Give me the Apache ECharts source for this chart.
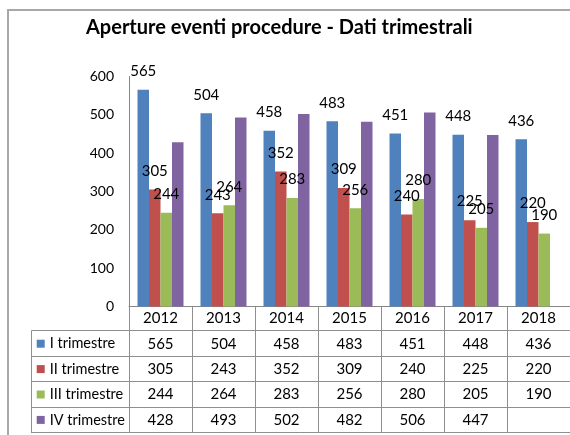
<!DOCTYPE html>
<html><head><meta charset="utf-8">
<script src="https://cdn.jsdelivr.net/npm/echarts@6/dist/echarts.min.js"></script>
<style>html,body{margin:0;padding:0;background:#fff}#c{width:570px;height:435px}</style>
</head><body><div id="c"></div>
<script>
const years = ['2012','2013','2014','2015','2016','2017','2018'];
const seriesNames = ['I trimestre','II trimestre','III trimestre','IV trimestre'];
const q1 = [565,504,458,483,451,448,436];
const q2 = [305,243,352,309,240,225,220];
const q3 = [244,264,283,256,280,205,190];
const q4 = [428,493,502,482,506,447,null];
const yMin = 0, yMax = 600, yStep = 100;
const titleText = 'Aperture eventi procedure - Dati trimestrali';

const values = [q1,q2,q3,q4];
const colors = ['#4F81BD','#C0504D','#9BBB59','#8064A2'];
const FONT = 'Lato';
const lineColor = '#8f8f8f';

const chart = echarts.init(document.getElementById('c'), null, {renderer:'canvas'});
const option = {
  animation:false,
  backgroundColor:'#fff',
  textStyle:{fontFamily:FONT},
  title:{text:titleText,left:86,top:18,padding:0,
    textStyle:{fontFamily:FONT,fontSize:20,fontWeight:'bold',color:'#000'}},
  legend:{data:seriesNames,orient:'vertical',left:36.7,top:335.7,padding:0,
    itemWidth:8,itemHeight:8,itemGap:9.4,icon:'rect',itemTextGap:2,
    textStyle:{fontFamily:FONT,fontSize:14.5,lineHeight:16,color:'#000'}},
  graphic:[{type:'rect',z:-10,silent:true,shape:{x:8,y:10,width:640,height:480},
    style:{fill:'none',stroke:'#a8a8a8',lineWidth:2}}],
  grid:[
    {left:129,top:76.4,width:447.6,height:230,containLabel:false},
    {left:31.7,top:330.7,width:544.9,height:102,containLabel:false}
  ],
  xAxis:[
    {type:'category',gridIndex:0,data:years,boundaryGap:true,
     axisLine:{lineStyle:{color:'#868686',width:1}},
     axisTick:{show:true,interval:0,length:126,lineStyle:{color:lineColor}},
     axisLabel:{interval:0,margin:-0.8,fontFamily:FONT,fontSize:15,lineHeight:25.4,color:'#000',
       formatter:(v,i)=>[v].concat(values.map(s=>s[i]==null?'':String(s[i]))).join('\n')}},
    {type:'value',gridIndex:1,show:false,min:0,max:1}
  ],
  yAxis:[
    {type:'value',gridIndex:0,min:yMin,max:yMax,interval:yStep,
     axisLine:{show:true,lineStyle:{color:'#868686'}},axisTick:{show:false},
     splitLine:{show:false},
     axisLabel:{margin:15,fontFamily:FONT,fontSize:14,color:'#000'}},
    {type:'category',gridIndex:1,data:seriesNames,inverse:true,boundaryGap:true,
     axisLine:{show:true,lineStyle:{color:lineColor}},axisTick:{show:false},axisLabel:{show:false},
     splitLine:{show:true,interval:0,lineStyle:{color:lineColor}}}
  ],
  series: values.map((d,k)=>({
    name:seriesNames[k],type:'bar',xAxisIndex:0,yAxisIndex:0,data:d,
    barWidth:11.5,barGap:'0%',
    itemStyle:{color:colors[k]},
    label:{show:k<3,position:'top',distance:11,fontFamily:FONT,fontSize:15,color:'#000'}
  }))
};
chart.setOption(option);
</script></body></html>
